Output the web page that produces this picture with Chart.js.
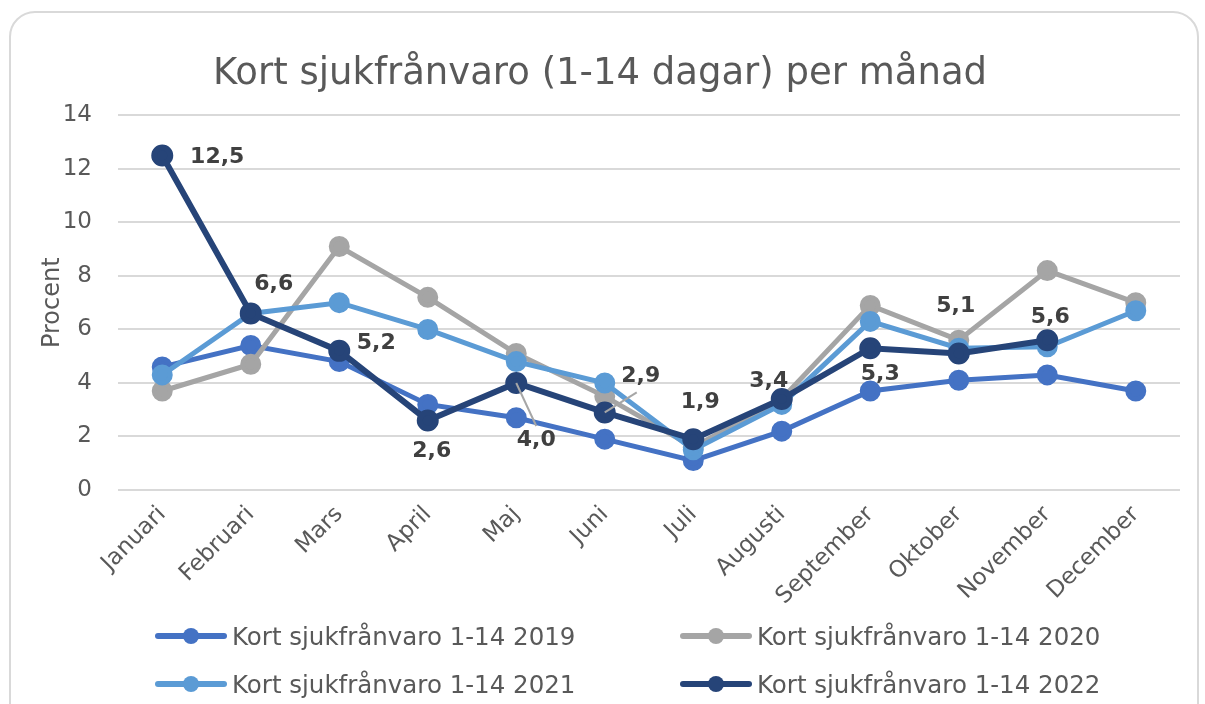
<!DOCTYPE html>
<html>
<head>
<meta charset="utf-8">
<script src="https://cdn.jsdelivr.net/npm/chart.js@4"></script>
<style>
    html, body { margin: 0; padding: 0; background: #ffffff; overflow: hidden; }
    #frame {
        position: absolute; left: 9px; top: 11px; width: 1190px; height: 740px;
        border: 2px solid #d9d9d9; border-radius: 26px; box-sizing: border-box;
    }
    #wrap { position: absolute; left: 0; top: 0; width: 1205px; height: 620px; }
    #legend {
        position: absolute; left: 155px; top: 618px; width: 1000px;
        display: grid; grid-template-columns: 525px 475px; grid-auto-rows: 48px;
        font-family: "DejaVu Sans", sans-serif; font-size: 24.5px; color: #595959;
    }
    .legendItem { display: flex; align-items: center; height: 36px; white-space: nowrap; }
    .legendIcon { position: relative; width: 72px; height: 20px; margin-right: 5px; flex: none; }
    .legendIcon .bar { position: absolute; left: 0; top: 7px; width: 72px; height: 6px; border-radius: 3px; }
    .legendIcon .dot { position: absolute; left: 28px; top: 2px; width: 16px; height: 16px; border-radius: 50%; }
</style>
</head>
<body>
<div id="frame"></div>
<div id="wrap"><canvas id="sickChart" width="1205" height="620"></canvas></div>
<div id="legend"></div>
<script>
const months = ['Januari', 'Februari', 'Mars', 'April', 'Maj', 'Juni', 'Juli', 'Augusti', 'September', 'Oktober', 'November', 'December'];
const values2019 = [4.6, 5.4, 4.8, 3.2, 2.7, 1.9, 1.1, 2.2, 3.7, 4.1, 4.3, 3.7];
const values2020 = [3.7, 4.7, 9.1, 7.2, 5.1, 3.5, 1.6, 3.4, 6.9, 5.6, 8.2, 7.0];
const values2021 = [4.3, 6.6, 7.0, 6.0, 4.8, 4.0, 1.5, 3.2, 6.3, 5.3, 5.35, 6.7];
const values2022 = [12.5, 6.6, 5.2, 2.6, 4.0, 2.9, 1.9, 3.4, 5.3, 5.1, 5.6, null];
const seriesNames = ['Kort sjukfrånvaro 1-14 2019', 'Kort sjukfrånvaro 1-14 2020', 'Kort sjukfrånvaro 1-14 2021', 'Kort sjukfrånvaro 1-14 2022'];
const yTicks = [0, 2, 4, 6, 8, 10, 12, 14];

const colors = ['#4472c4', '#a5a5a5', '#5b9bd5', '#264478'];
const textColor = '#595959';
const fontFamily = '"DejaVu Sans", sans-serif';

// where the 2022 labels sit (dx, dy from the point)
const labelOffsets = [[55, 2], [23, -29], [37, -8], [4, 31], [20, 57], [36, -36], [7, -37], [-13, -18], [10, 26], [-3, -47], [3, -23], [0, 0]];
const leaderLines = { 4: true, 5: true };

const dataLabelPlugin = {
    id: 'dataLabels2022',
    afterDatasetsDraw(chart) {
        const meta = chart.getDatasetMeta(3);
        const ctx = chart.ctx;
        ctx.save();
        ctx.font = 'bold 22px ' + fontFamily;
        ctx.fillStyle = '#404040';
        ctx.textAlign = 'center';
        ctx.textBaseline = 'middle';
        meta.data.forEach((pt, i) => {
            const v = values2022[i];
            if (v === null || v === undefined) return;
            const off = labelOffsets[i];
            const lx = pt.x + off[0];
            const ly = pt.y + off[1];
            if (leaderLines[i]) {
                ctx.save();
                ctx.strokeStyle = '#a6a6a6';
                ctx.lineWidth = 2;
                ctx.beginPath();
                ctx.moveTo(pt.x, pt.y);
                if (off[1] > 0) ctx.lineTo(lx, ly - 14);
                else ctx.lineTo(lx - 4, ly + 16);
                ctx.stroke();
                ctx.restore();
            }
            ctx.fillText(v.toFixed(1).replace('.', ','), lx, ly);
        });
        ctx.restore();
    }
};

const allValues = [values2019, values2020, values2021, values2022];

const chart = new Chart(document.getElementById('sickChart'), {
    type: 'line',
    data: {
        labels: months,
        datasets: allValues.map((vals, i) => ({
            label: seriesNames[i],
            data: vals,
            borderColor: colors[i],
            backgroundColor: colors[i],
            pointBackgroundColor: colors[i],
            pointBorderColor: colors[i],
            borderWidth: i === 3 ? 6 : 5,
            pointRadius: 8,
            pointHoverRadius: 8,
            tension: 0,
            fill: false,
            order: 4 - i
        }))
    },
    options: {
        responsive: false,
        animation: false,
        layout: {
            padding: { left: 20, right: 25, top: 16, bottom: 0 }
        },
        plugins: {
            title: {
                display: true,
                text: 'Kort sjukfrånvaro (1-14 dagar) per månad',
                color: textColor,
                font: { family: fontFamily, size: 37, weight: 'normal' },
                padding: { top: 36, bottom: 19 }
            },
            legend: { display: false },
            tooltip: { enabled: false }
        },
        scales: {
            x: {
                offset: true,
                grid: { display: false },
                border: { display: false },
                afterFit(axis) {
                    axis.height = 130;
                },
                ticks: {
                    color: textColor,
                    font: { family: fontFamily, size: 23 },
                    maxRotation: 45,
                    minRotation: 45,
                    autoSkip: false
                }
            },
            y: {
                min: 0,
                max: 14,
                afterBuildTicks(axis) {
                    axis.ticks = yTicks.map(v => ({ value: v }));
                },
                afterFit(axis) {
                    axis.width = 98;
                },
                grid: { color: '#d9d9d9', lineWidth: 2, drawTicks: false },
                border: { display: false },
                ticks: {
                    color: textColor,
                    font: { family: fontFamily, size: 23 },
                    padding: 26
                },
                title: {
                    display: true,
                    text: 'Procent',
                    color: textColor,
                    font: { family: fontFamily, size: 24 },
                    padding: { top: 18, bottom: 0 }
                }
            }
        }
    },
    plugins: [dataLabelPlugin]
});

// html legend, two columns like the original
const legendBox = document.getElementById('legend');
legendBox.innerHTML = chart.data.datasets.map(ds => `
    <div class="legendItem">
        <span class="legendIcon">
            <span class="bar" style="background:${ds.borderColor}"></span>
            <span class="dot" style="background:${ds.borderColor}"></span>
        </span>
        <span>${ds.label}</span>
    </div>
`).join('');
</script>
</body>
</html>
